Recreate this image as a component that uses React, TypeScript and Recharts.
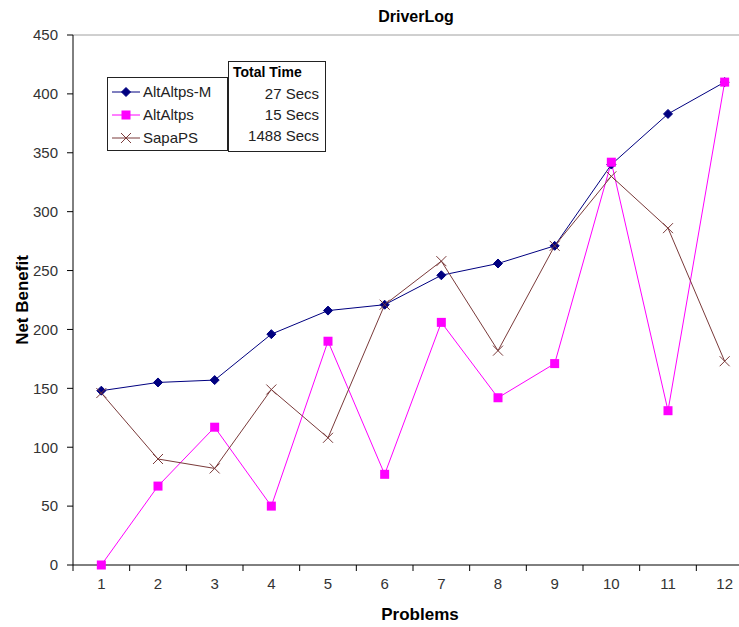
import React from "react";
import { LineChart, Line, XAxis, YAxis, ReferenceLine } from "recharts";

const problems = [1, 2, 3, 4, 5, 6, 7, 8, 9, 10, 11, 12];
const altAltpsM = [148, 155, 157, 196, 216, 221, 246, 256, 271, 340, 383, 410];
const altAltps = [0, 67, 117, 50, 190, 77, 206, 142, 171, 342, 131, 410];
const sapaPS = [146, 90, 82, 149, 108, 221, 258, 182, 271, 330, 286, 173];
const yTicks = [0, 50, 100, 150, 200, 250, 300, 350, 400, 450];
const boundaryTicks = [0.5, 1.5, 2.5, 3.5, 4.5, 5.5, 6.5, 7.5, 8.5, 9.5, 10.5, 11.5, 12.5];
const totalTimes = ["27 Secs", "15 Secs", "1488 Secs"];

const data = problems.map((p, i) => ({
  p,
  m: altAltpsM[i],
  a: altAltps[i],
  s: sapaPS[i],
}));

const NAVY = "#000080";
const MAGENTA = "#FF00FF";
const BROWN = "#7a3a3a";
const FONT = "'Liberation Sans', Arial, sans-serif";

const Diamond = (props: any) => {
  const { cx, cy } = props;
  if (cx == null || cy == null) return null;
  const r = 4.5;
  return (
    <polygon
      points={`${cx},${cy - r} ${cx + r},${cy} ${cx},${cy + r} ${cx - r},${cy}`}
      fill={NAVY}
      stroke={NAVY}
    />
  );
};

const Square = (props: any) => {
  const { cx, cy } = props;
  if (cx == null || cy == null) return null;
  const r = 4.5;
  return <rect x={cx - r} y={cy - r} width={2 * r} height={2 * r} fill={MAGENTA} />;
};

const Cross = (props: any) => {
  const { cx, cy } = props;
  if (cx == null || cy == null) return null;
  const r = 5;
  return (
    <g stroke={BROWN} strokeWidth={1}>
      <line x1={cx - r} y1={cy - r} x2={cx + r} y2={cy + r} />
      <line x1={cx - r} y1={cy + r} x2={cx + r} y2={cy - r} />
    </g>
  );
};

const EmptyTick = () => <g />;

const legendItems = [
  { name: "AltAltps-M", color: NAVY, marker: "diamond" },
  { name: "AltAltps", color: MAGENTA, marker: "square" },
  { name: "SapaPS", color: BROWN, marker: "cross" },
];

const LegendContent = () => (
  <div
    style={{
      width: 121,
      height: 74,
      border: "1px solid #222",
      background: "#fff",
      boxSizing: "border-box",
      fontFamily: FONT,
      fontSize: 15,
      color: "#222",
      paddingTop: 2,
    }}
  >
    {legendItems.map((it) => (
      <div key={it.name} style={{ display: "flex", alignItems: "center", height: 23 }}>
        <svg width={32} height={14} style={{ marginLeft: 2 }}>
          <line x1={2} y1={7} x2={30} y2={7} stroke={it.color} strokeWidth={1} />
          {it.marker === "diamond" && <Diamond cx={16} cy={7} />}
          {it.marker === "square" && <Square cx={16} cy={7} />}
          {it.marker === "cross" && <Cross cx={16} cy={7} />}
        </svg>
        <span style={{ marginLeft: 1 }}>{it.name}</span>
      </div>
    ))}
  </div>
);

export default function App() {
  return (
    <div
      style={{
        position: "absolute",
        left: 0,
        top: 0,
        width: 739,
        height: 627,
        overflow: "hidden",
        background: "#fff",
      }}
    >
      <div
        style={{
          position: "absolute",
          left: 316,
          top: 8,
          width: 200,
          textAlign: "center",
          fontFamily: FONT,
          fontWeight: "bold",
          fontSize: 16,
          color: "#000",
        }}
      >
        DriverLog
      </div>
      <LineChart
        width={760}
        height={627}
        data={data}
        margin={{ top: 35, right: 7, bottom: 0, left: 0 }}
      >
        <XAxis
          xAxisId="b"
          dataKey="p"
          type="number"
          domain={[0.5, 12.5]}
          ticks={problems}
          interval={0}
          height={61}
          axisLine={false}
          tickLine={false}
          tickSize={5}
          tickMargin={7}
          tick={{ fill: "#333", fontSize: 15, fontFamily: FONT }}
          label={{
            value: "Problems",
            position: "insideBottom",
            offset: 7,
            dx: 7,
            style: { fontWeight: "bold", fontSize: 17, fontFamily: FONT, fill: "#000" },
          }}
        />
        <XAxis
          xAxisId="a"
          dataKey="p"
          type="number"
          domain={[0.5, 12.5]}
          ticks={boundaryTicks}
          interval={0}
          height={1}
          tick={EmptyTick}
          tickSize={6}
          axisLine={{ stroke: "#000" }}
          tickLine={{ stroke: "#000" }}
        />
        <YAxis
          domain={[0, 450]}
          ticks={yTicks}
          interval={0}
          width={73}
          tickSize={6}
          tickMargin={9}
          axisLine={{ stroke: "#000" }}
          tickLine={{ stroke: "#000" }}
          tick={{ fill: "#333", fontSize: 15, fontFamily: FONT }}
          label={{
            value: "Net Benefit",
            angle: -90,
            position: "insideLeft",
            offset: 22,
            style: {
              textAnchor: "middle",
              fontWeight: "bold",
              fontSize: 17,
              fontFamily: FONT,
              fill: "#000",
            },
          }}
        />
        <ReferenceLine xAxisId="b" y={450} stroke="#a0a0a0" />
        <Line
          xAxisId="b"
          dataKey="m"
          name="AltAltps-M"
          stroke={NAVY}
          strokeWidth={1}
          dot={<Diamond />}
          activeDot={false}
          isAnimationActive={false}
        />
        <Line
          xAxisId="b"
          dataKey="a"
          name="AltAltps"
          stroke={MAGENTA}
          strokeWidth={1}
          dot={<Square />}
          activeDot={false}
          isAnimationActive={false}
        />
        <Line
          xAxisId="b"
          dataKey="s"
          name="SapaPS"
          stroke={BROWN}
          strokeWidth={1}
          dot={<Cross />}
          activeDot={false}
          isAnimationActive={false}
        />
      </LineChart>
      <div style={{ position: "absolute", left: 107, top: 77 }}>
        <LegendContent />
      </div>
      <div
        style={{
          position: "absolute",
          left: 228,
          top: 61,
          width: 98,
          height: 91,
          border: "1px solid #222",
          boxSizing: "border-box",
          background: "#fff",
          fontFamily: FONT,
          fontSize: 15,
          color: "#222",
          padding: "2px 6px 0 4px",
        }}
      >
        <div style={{ fontWeight: "bold", height: 21, color: "#000", fontSize: 14 }}>Total Time</div>
        {totalTimes.map((t) => (
          <div key={t} style={{ textAlign: "right", height: 21 }}>
            {t}
          </div>
        ))}
      </div>
    </div>
  );
}
